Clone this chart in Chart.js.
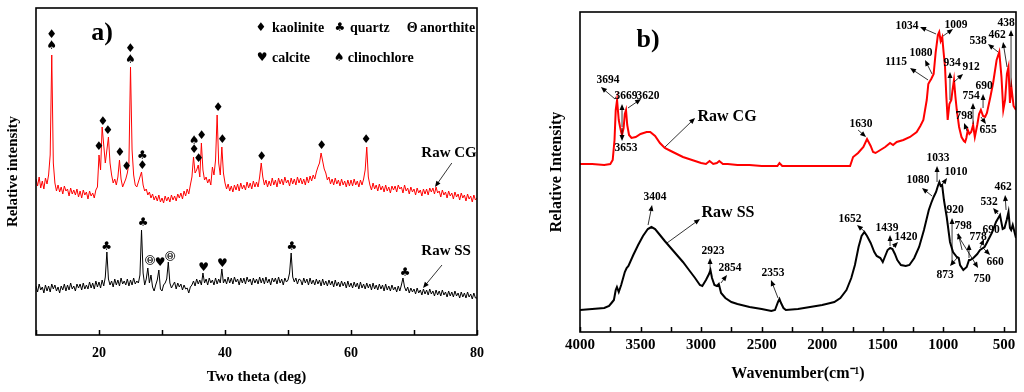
<!DOCTYPE html>
<html lang="en">
<head>
<meta charset="UTF-8">
<title>XRD and FTIR of raw CG and SS</title>
<script src="https://cdn.jsdelivr.net/npm/chart.js"></script>
<style>
  html, body { margin: 0; padding: 0; background: #fff; }
  .panel { position: absolute; top: 0; width: 512px; height: 392px; }
  #panelA { left: 0; }
  #panelB { left: 512px; }
</style>
</head>
<body>
<div class="panel" id="panelA"><canvas id="xrdChart"></canvas></div>
<div class="panel" id="panelB"><canvas id="ftirChart"></canvas></div>

<script>
// a) XRD patterns, one reading every 0.25 deg from 10 to 80
const thetaStart = 10;
const thetaStep = 0.25;
const cgXrd = [
  156,149,158,147, 154,146,157,151, 160,180,280,172, 152,144,150,143, 148,141,149,144,
  146,139,147,141, 145,140,146,138, 144,137,145,140, 143,136,144,139, 142,137,145,148,
  180,165,208,190, 172,185,198,172, 160,152,156,150, 158,175,156,148, 152,156,162,172,
  268,185,160,150, 148,153,158,163, 150,144,146,140, 143,137,141,135, 139,134,140,133,
  137,132,139,134, 138,133,140,135, 139,134,141,137, 142,136,144,139, 146,141,150,158,
  178,162,165,170, 158,192,165,155, 158,152,156,150, 168,160,175,220, 172,160,188,162,
  152,146,151,144, 149,143,150,145, 151,144,152,146, 150,145,153,147, 152,146,154,148,
  153,148,158,172, 158,150,155,148, 154,149,157,150, 155,148,157,151, 156,150,158,152,
  155,149,157,151, 156,150,158,152, 157,151,156,150, 158,152,159,154, 160,156,163,168,
  172,182,174,166, 162,155,158,151, 156,150,157,151, 155,149,156,150, 154,148,155,149,
  155,149,156,150, 154,148,155,150, 156,165,188,158, 150,145,152,146, 150,144,151,145,
  149,143,150,144, 148,142,149,145, 149,143,150,146, 148,142,150,144, 147,141,148,143,
  146,140,147,142, 145,139,146,141, 146,140,147,143, 147,141,148,142, 144,138,145,140,
  143,137,144,139, 142,136,143,138, 141,135,142,137, 140,134,141,136, 139,133,140,135,
  137
];
const ssXrd = [
  49,43,51,45, 48,42,50,44, 49,43,51,46, 50,44,48,42, 49,45,51,44,
  50,45,52,46, 49,44,51,47, 51,45,52,46, 50,46,53,47, 52,46,54,48,
  53,47,55,49, 58,83,56,50, 54,48,56,50, 55,49,57,51, 54,50,56,49,
  55,50,57,51, 54,52,60,105, 62,50,56,67, 52,60,48,44, 50,55,65,46,
  44,50,52,56, 73,52,47,50, 53,46,52,48, 51,45,50,46, 47,42,48,50,
  54,49,56,51, 55,50,62,52, 56,50,57,52, 55,50,57,51, 56,52,66,52,
  56,51,58,52, 57,51,58,53, 56,50,57,52, 57,51,58,53, 56,50,57,52,
  56,51,58,52, 57,51,58,52, 56,50,57,53, 57,51,58,52, 56,50,57,53,
  55,62,82,58, 53,57,51,56, 55,50,57,52, 56,50,57,51, 55,50,56,51,
  55,49,56,50, 54,49,55,50, 54,48,55,49, 53,48,54,49, 53,47,54,48,
  52,47,53,48, 52,46,53,47, 51,46,52,47, 51,45,52,46, 50,45,51,46,
  50,44,51,45, 49,44,50,45, 48,43,49,44, 50,57,48,44, 48,42,47,43,
  46,41,47,42, 45,40,46,41, 45,40,46,41, 44,39,45,40, 44,39,45,40,
  43,38,44,39, 43,38,44,39, 42,37,43,38, 42,37,43,38, 41,36,42,37,
  37
];
const xrdTicks = [20, 40, 60, 80];

// phase marks: [2theta, height, symbol]
const xrdMarks = [
  [12.5, 300, '♦'], [12.5, 289, '♠'], [20.0, 188, '♦'], [20.6, 213, '♦'], [21.4, 204, '♦'],
  [23.3, 182, '♦'], [24.4, 168, '♦'], [25.0, 286, '♦'], [25.0, 275, '♠'], [26.9, 179, '♣'],
  [26.9, 169, '♦'], [35.1, 194, '♠'], [35.1, 185, '♦'], [35.8, 176, '♦'], [36.3, 199, '♦'],
  [38.9, 227, '♦'], [39.6, 195, '♦'], [45.8, 178, '♦'], [55.35, 189, '♦'], [62.4, 195, '♦'],
  [21.2, 88, '♣'], [27.0, 112, '♣'], [28.1, 75, 'Θ'], [29.7, 72, '♥'], [31.3, 79, 'Θ'],
  [36.6, 67, '♥'], [39.6, 71, '♥'], [50.6, 88, '♣'], [68.6, 62, '♣']
];
// [symbol x, name x, height, symbol, phase]
const xrdLegend = [
  [45.7, 47.46, 307, '♦', 'kaolinite'], [58.25, 59.84, 307, '♣', 'quartz'],
  [69.7, 70.95, 307, 'Θ', 'anorthite'], [45.9, 47.46, 277, '♥', 'calcite'],
  [58.1, 59.5, 277, '♠', 'clinochlore']
];
// [text, x, y, arrow from x, y, arrow to x, y]
const xrdSamples = [
  ['Raw CG', 75.56, 182, 76.0, 172, 73.33, 148],
  ['Raw SS', 75.1, 84, 74.44, 70, 71.43, 47]
];

// b) FTIR spectra
const cgWave = [
  4000, 3900, 3800, 3750, 3730, 3715, 3705, 3694, 3680, 3669,
  3660, 3653, 3640, 3630, 3620, 3610, 3595, 3575, 3540, 3500,
  3450, 3420, 3380, 3340, 3300, 3250, 3200, 3150, 3100, 3050,
  3000, 2960, 2930, 2900, 2870, 2850, 2820, 2780, 2700, 2600,
  2500, 2400, 2370, 2353, 2330, 2200, 2100, 2000, 1900, 1800,
  1770, 1745, 1704, 1660, 1630, 1600, 1580, 1560, 1520, 1480,
  1440, 1415, 1385, 1330, 1275, 1220, 1190, 1165, 1137, 1124,
  1115, 1100, 1080, 1063, 1045, 1034, 1022, 1009, 998, 986,
  975, 964, 950, 934, 924, 912, 900, 889, 870, 850,
  830, 820, 810, 798, 785, 770, 754, 740, 720, 705,
  690, 672, 655, 640, 610, 589, 560, 538, 520, 505,
  490, 475, 462, 450, 438, 420, 400
];
const cgFtir = [
  168, 168, 167, 168, 172, 192, 222, 232, 212, 205,
  200, 197, 204, 218, 222, 207, 197, 194, 195, 198,
  200, 200, 196, 189, 184, 181, 178, 175, 173, 171,
  169, 168, 171, 168, 169, 171, 168, 168, 167, 167,
  166, 166, 166, 169, 166, 166, 166, 166, 166, 166,
  166, 175, 179, 185, 193, 186, 180, 179, 182, 185,
  189, 187, 190, 192, 195, 200, 206, 212, 232, 248,
  250, 253, 258, 280, 297, 300, 291, 295, 280, 265,
  235, 212, 228, 232, 242, 252, 235, 222, 205, 195,
  191, 190, 194, 202, 198, 200, 207, 195, 207, 218,
  222, 216, 215, 219, 236, 249, 272, 280, 255, 222,
  232, 258, 265, 229, 245, 226, 222
];
const ssWave = [
  4000, 3900, 3800, 3760, 3740, 3720, 3705, 3695, 3680, 3660,
  3630, 3615, 3600, 3560, 3520, 3480, 3440, 3410, 3380, 3340,
  3300, 3250, 3200, 3150, 3100, 3050, 3010, 2990, 2960, 2935,
  2923, 2910, 2890, 2870, 2854, 2835, 2800, 2750, 2700, 2600,
  2500, 2420, 2390, 2365, 2353, 2340, 2320, 2300, 2200, 2100,
  2000, 1900, 1850, 1800, 1760, 1730, 1700, 1675, 1652, 1630,
  1600, 1570, 1550, 1520, 1500, 1480, 1460, 1439, 1420, 1400,
  1380, 1350, 1310, 1280, 1240, 1200, 1160, 1120, 1100, 1080,
  1060, 1045, 1033, 1022, 1010, 995, 972, 945, 920, 889,
  873, 862, 835, 807, 788, 778, 752, 720, 697, 660,
  642, 600, 565, 532, 510, 495, 477, 462, 450, 440,
  427, 400
];
const ssFtir = [
  22, 23, 24, 26, 29, 32, 42, 45, 40, 47,
  60, 64, 66, 77, 87, 96, 103, 105, 103, 97,
  91, 84, 77, 70, 62, 54, 47, 46, 52, 58,
  62, 54, 47, 46, 48, 39, 34, 30, 28, 25,
  23, 21, 22, 30, 33, 29, 24, 22, 23, 25,
  27, 30, 34, 42, 54, 67, 85, 96, 100, 96,
  89, 80, 76, 74, 70, 76, 82, 84, 83, 78,
  72, 67, 66, 67, 74, 85, 102, 122, 129, 135,
  140, 146, 150, 146, 147, 132, 115, 90, 80, 75,
  74, 67, 62, 65, 72, 72, 74, 78, 82, 85,
  89, 99, 110, 117, 103, 104, 112, 120, 104, 102,
  107, 94
];
const ftirTicks = [4000, 3500, 3000, 2500, 2000, 1500, 1000, 500];

// peak labels: [text, x, y, arrow from x, y, arrow to x, y]
const ftirPeaks = [
  ['3694', 3769, 252, 3711, 233, 3827, 245],
  ['3669', 3620, 236, 3653, 205, 3653, 228],
  ['3620', 3438, 236, 3604, 224, 3496, 233],
  ['3653', 3620, 184, 3653, 204, 3653, 191],
  ['1630', 1680, 208, 1704, 202, 1638, 195],
  ['1034', 1300, 306, 1060, 298, 1192, 305],
  ['1009', 895, 307, 1002, 296, 920, 303],
  ['1080', 1184, 279, 1093, 258, 1151, 272],
  ['1115', 1390, 270, 1126, 252, 1275, 264],
  ['934', 928, 269, 945, 232, 945, 260],
  ['912', 771, 265, 912, 250, 837, 258],
  ['690', 664, 246, 672, 224, 672, 238],
  ['754', 771, 236, 755, 208, 755, 229],
  ['798', 829, 216, 804, 201, 829, 209],
  ['655', 631, 202, 689, 215, 648, 208],
  ['538', 713, 291, 548, 280, 631, 288],
  ['462', 556, 297, 474, 265, 507, 290],
  ['438', 482, 309, 441, 245, 441, 302],
  ['3404', 3381, 135, 3438, 107, 3405, 127],
  ['2923', 2902, 81, 2926, 62, 2926, 74],
  ['2854', 2761, 64, 2836, 49, 2786, 57],
  ['2353', 2406, 59, 2365, 34, 2423, 52],
  ['1652', 1770, 113, 1655, 101, 1713, 107],
  ['1439', 1465, 104, 1440, 86, 1440, 97],
  ['1420', 1308, 95, 1415, 85, 1374, 90],
  ['1080', 1209, 152, 1093, 136, 1176, 144],
  ['1033', 1044, 174, 1052, 150, 1052, 166],
  ['1010', 895, 160, 1011, 147, 969, 154],
  ['462', 507, 145, 482, 122, 490, 137],
  ['532', 622, 130, 548, 118, 589, 124],
  ['920', 903, 122, 928, 67, 928, 114],
  ['798', 837, 106, 845, 82, 878, 99],
  ['778', 713, 95, 788, 74, 788, 88],
  ['690', 606, 102, 697, 84, 664, 93],
  ['660', 573, 70, 672, 84, 614, 77],
  ['873', 986, 57, 887, 74, 945, 66],
  ['750', 680, 53, 887, 98, 713, 64]
];
const ftirSamples = [
  ['Raw CG', 2786, 215, 3298, 185, 3050, 214],
  ['Raw SS', 2778, 119, 3282, 89, 3009, 113]
];

const serif = '"Liberation Serif", "Times New Roman", serif';
const symFont = '"DejaVu Sans", sans-serif';

function px(chart, x, y) {
  return [chart.scales.x.getPixelForValue(x), chart.scales.y.getPixelForValue(y)];
}

function drawArrow(ctx, x1, y1, x2, y2) {
  const a = Math.atan2(y2 - y1, x2 - x1);
  const c = Math.cos(a), s = Math.sin(a);
  ctx.beginPath();
  ctx.moveTo(x1, y1);
  ctx.lineTo(x2 - 3 * c, y2 - 3 * s);
  ctx.stroke();
  ctx.beginPath();
  ctx.moveTo(x2, y2);
  ctx.lineTo(x2 - 6 * c + 2.5 * s, y2 - 6 * s - 2.5 * c);
  ctx.lineTo(x2 - 6 * c - 2.5 * s, y2 - 6 * s + 2.5 * c);
  ctx.closePath();
  ctx.fill();
}

function drawLabels(chart, list, font) {
  const ctx = chart.ctx;
  list.forEach(([t, x, y, x1, y1, x2, y2]) => {
    const [tx, ty] = px(chart, x, y);
    const [ax, ay] = px(chart, x1, y1);
    const [bx, by] = px(chart, x2, y2);
    drawArrow(ctx, ax, ay, bx, by);
    ctx.font = font;
    ctx.fillText(t, tx, ty);
  });
}

// box round the plot plus short inward ticks on the bottom axis
const framePlugin = {
  id: 'frame',
  afterDraw(chart) {
    const { ctx, chartArea: a } = chart;
    const xs = chart.scales.x;
    ctx.save();
    ctx.strokeStyle = '#000';
    ctx.lineWidth = 1.6;
    ctx.strokeRect(a.left, a.top, a.right - a.left, a.bottom - a.top);
    ctx.lineWidth = 1.5;
    ctx.beginPath();
    xs.ticks.forEach(t => {
      const x = Math.round(xs.getPixelForValue(t.value)) + 0.5;
      ctx.moveTo(x, a.bottom);
      ctx.lineTo(x, a.bottom - 5);
    });
    ctx.stroke();
    ctx.restore();
  }
};

const xrdNotes = {
  id: 'xrdNotes',
  afterDraw(chart) {
    const ctx = chart.ctx;
    ctx.save();
    ctx.fillStyle = '#000';
    ctx.strokeStyle = '#000';
    ctx.lineWidth = 0.8;
    ctx.textAlign = 'center';
    ctx.textBaseline = 'middle';
    xrdMarks.forEach(([x, y, s]) => {
      const [mx, my] = px(chart, x, y);
      if (s === 'Θ') {
        ctx.font = 'bold 8px ' + serif;
        ctx.fillText('Θ', mx, my + 0.5);
        ctx.beginPath();
        ctx.arc(mx, my, 4.5, 0, Math.PI * 2);
        ctx.stroke();
      } else {
        ctx.font = '12px ' + symFont;
        ctx.fillText(s, mx, my);
      }
    });
    xrdLegend.forEach(([sx, nx, y, s, name]) => {
      const [a, b] = px(chart, sx, y);
      ctx.textAlign = 'center';
      ctx.font = s === 'Θ' ? 'bold 14px ' + serif : '12px ' + symFont;
      ctx.fillText(s, a, b);
      const [c] = px(chart, nx, y);
      ctx.textAlign = 'left';
      ctx.font = 'bold 14px ' + serif;
      ctx.fillText(name, c, b);
    });
    ctx.textAlign = 'center';
    drawLabels(chart, xrdSamples, 'bold 15px ' + serif);
    const [lx, ly] = px(chart, 20.5, 302);
    ctx.font = 'bold 26px ' + serif;
    ctx.fillText('a)', lx, ly);
    ctx.restore();
  }
};

const ftirNotes = {
  id: 'ftirNotes',
  afterDraw(chart) {
    const ctx = chart.ctx;
    ctx.save();
    ctx.fillStyle = '#000';
    ctx.strokeStyle = '#000';
    ctx.lineWidth = 0.8;
    ctx.textAlign = 'center';
    ctx.textBaseline = 'middle';
    drawLabels(chart, ftirPeaks, 'bold 11.5px ' + serif);
    drawLabels(chart, ftirSamples, 'bold 16px ' + serif);
    const [lx, ly] = px(chart, 3438, 292);
    ctx.font = 'bold 26px ' + serif;
    ctx.fillText('b)', lx, ly);
    ctx.restore();
  }
};

function tickFont(size) {
  return { family: serif, size: size, weight: 'bold' };
}

new Chart(document.getElementById('xrdChart'), {
  type: 'line',
  data: {
    datasets: [
      {
        label: 'Raw CG',
        data: cgXrd.map((v, i) => ({ x: thetaStart + i * thetaStep, y: v })),
        borderColor: '#ff0000',
        borderWidth: 1,
        pointRadius: 0,
        tension: 0
      },
      {
        label: 'Raw SS',
        data: ssXrd.map((v, i) => ({ x: thetaStart + i * thetaStep, y: v })),
        borderColor: '#000000',
        borderWidth: 1,
        pointRadius: 0,
        tension: 0
      }
    ]
  },
  options: {
    responsive: true,
    maintainAspectRatio: false,
    animation: false,
    devicePixelRatio: 1,
    layout: { padding: { left: 0, right: 35, top: 8, bottom: 0 } },
    plugins: { legend: { display: false }, tooltip: { enabled: false } },
    scales: {
      x: {
        type: 'linear',
        min: 10,
        max: 80,
        ticks: {
          stepSize: 10,
          autoSkip: false,
          maxRotation: 0,
          padding: 10,
          color: '#000',
          font: tickFont(14),
          callback: v => (xrdTicks.includes(v) ? String(v) : '')
        },
        grid: { display: false, drawTicks: false },
        border: { display: false },
        title: {
          display: true,
          text: 'Two theta (deg)',
          color: '#000',
          font: tickFont(15),
          padding: { top: 0, bottom: 6 }
        },
        afterFit: s => { s.height = 57; }
      },
      y: {
        min: 0,
        max: 327,
        ticks: { display: false },
        grid: { display: false },
        border: { display: false },
        title: {
          display: true,
          text: 'Relative intensity',
          color: '#000',
          font: tickFont(15),
          padding: { top: 4, bottom: 0 }
        },
        afterFit: s => { s.width = 36; }
      }
    }
  },
  plugins: [framePlugin, xrdNotes]
});

new Chart(document.getElementById('ftirChart'), {
  type: 'line',
  data: {
    datasets: [
      {
        label: 'Raw CG',
        data: cgWave.map((w, i) => ({ x: w, y: cgFtir[i] })),
        borderColor: '#ff0000',
        borderWidth: 2,
        pointRadius: 0,
        tension: 0
      },
      {
        label: 'Raw SS',
        data: ssWave.map((w, i) => ({ x: w, y: ssFtir[i] })),
        borderColor: '#000000',
        borderWidth: 2,
        pointRadius: 0,
        tension: 0
      }
    ]
  },
  options: {
    responsive: true,
    maintainAspectRatio: false,
    animation: false,
    devicePixelRatio: 1,
    layout: { padding: { left: 0, right: 8, top: 12, bottom: 0 } },
    plugins: { legend: { display: false }, tooltip: { enabled: false } },
    scales: {
      x: {
        type: 'linear',
        min: 400,
        max: 4000,
        reverse: true,
        ticks: {
          stepSize: 250,
          includeBounds: false,
          autoSkip: false,
          maxRotation: 0,
          padding: 4,
          color: '#000',
          font: tickFont(15),
          callback: v => (ftirTicks.includes(v) ? String(v) : '')
        },
        grid: { display: false, drawTicks: false },
        border: { display: false },
        title: {
          display: true,
          text: 'Wavenumber(cm⁻¹)',
          color: '#000',
          font: tickFont(16),
          padding: { top: 0, bottom: 9 }
        },
        afterFit: s => { s.height = 60; }
      },
      y: {
        min: 0,
        max: 320,
        ticks: { display: false },
        grid: { display: false },
        border: { display: false },
        title: {
          display: true,
          text: 'Relative Intensity',
          color: '#000',
          font: tickFont(16),
          padding: { top: 35, bottom: 0 }
        },
        afterFit: s => { s.width = 68; }
      }
    }
  },
  plugins: [framePlugin, ftirNotes]
});
</script>
</body>
</html>
